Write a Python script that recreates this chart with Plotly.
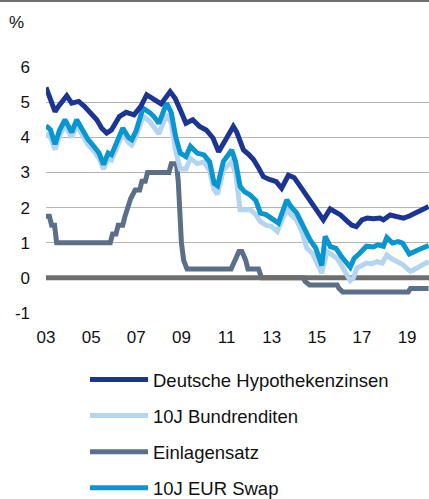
import plotly.graph_objects as go

# ---------------- data ----------------
tick_labels = ["03", "05", "07", "09", "11", "13", "15", "17", "19"]
y_ticks = [-1, 0, 1, 2, 3, 4, 5, 6]

hypo_t = [2003.0, 2003.18, 2003.4, 2003.55, 2003.92, 2004.14, 2004.45, 2004.7, 2004.95,
          2005.25, 2005.47, 2005.69, 2005.9, 2006.25, 2006.55, 2006.9, 2007.2, 2007.46,
          2007.8, 2008.1, 2008.5, 2008.72, 2008.95, 2009.2, 2009.5, 2009.8, 2010.1,
          2010.4, 2010.65, 2010.95, 2011.3, 2011.45, 2011.75, 2012.0, 2012.2, 2012.4,
          2012.63, 2012.9, 2013.2, 2013.44, 2013.74, 2014.0, 2014.26, 2014.5, 2014.78,
          2015.05, 2015.29, 2015.59, 2015.85, 2016.05, 2016.33, 2016.55, 2016.75, 2017.0,
          2017.23, 2017.5, 2017.8, 2017.95, 2018.25, 2018.55, 2018.84, 2019.1, 2019.3,
          2019.55, 2019.8, 2019.95]
hypo_v = [5.42, 5.07, 4.73, 4.88, 5.18, 4.97, 5.02, 4.88, 4.69,
          4.50, 4.26, 4.12, 4.21, 4.59, 4.71, 4.64, 4.88, 5.21,
          5.07, 4.95, 5.30, 5.11, 4.78, 4.40, 4.50, 4.31, 4.21,
          3.98, 3.59, 3.95, 4.31, 4.15, 3.64, 3.50, 3.36, 3.15,
          2.88, 2.80, 2.74, 2.55, 2.92, 2.85, 2.60, 2.42, 2.13,
          1.90, 1.65, 1.96, 1.85, 1.79, 1.62, 1.50, 1.46, 1.65,
          1.70, 1.68, 1.70, 1.65, 1.79, 1.74, 1.70, 1.76, 1.84,
          1.90, 1.98, 2.03]

bund_t = [2003.0, 2003.2, 2003.4, 2003.6, 2003.84, 2004.14, 2004.36, 2004.6, 2004.85,
          2005.1, 2005.35, 2005.55, 2005.75, 2005.9, 2006.2, 2006.4, 2006.65, 2006.8,
          2007.0, 2007.3, 2007.6, 2007.78, 2008.0, 2008.35, 2008.55, 2008.75, 2008.95,
          2009.2, 2009.4, 2009.7, 2010.0, 2010.25, 2010.45, 2010.6, 2010.86, 2011.2,
          2011.4, 2011.6, 2011.8, 2012.04, 2012.3, 2012.5, 2012.75, 2013.0, 2013.25,
          2013.67, 2013.85, 2014.1, 2014.35, 2014.55, 2014.8, 2015.05, 2015.22, 2015.45,
          2015.65, 2015.9, 2016.1, 2016.48, 2016.62, 2016.78, 2017.0, 2017.2, 2017.45,
          2017.65, 2017.9, 2018.1, 2018.3, 2018.55, 2018.8, 2019.15, 2019.5, 2019.95]
bund_v = [4.10, 4.00, 3.65, 4.05, 4.35, 4.00, 4.35, 4.10, 3.80,
          3.62, 3.40, 3.10, 3.40, 3.35, 3.85, 4.10, 3.85, 3.78,
          4.05, 4.60, 4.45, 4.30, 4.10, 4.65, 4.40, 3.60, 3.10,
          3.10, 3.40, 3.25, 3.30, 3.05, 2.50, 2.38, 3.07, 3.30,
          3.00, 1.94, 1.94, 1.94, 1.80, 1.60, 1.50, 1.46, 1.32,
          1.95, 1.80, 1.65, 1.30, 0.85, 0.70, 0.40, 0.13, 0.75,
          0.65, 0.55, 0.35, -0.08, 0.00, 0.28, 0.35, 0.42, 0.40,
          0.46, 0.42, 0.65, 0.55, 0.46, 0.38, 0.18, 0.30, 0.46]

einlage_t = [2003.0, 2003.15, 2003.25, 2003.38, 2003.47, 2005.85, 2005.95, 2006.1, 2006.2,
             2006.4, 2006.5, 2006.6, 2006.75, 2006.95, 2007.15, 2007.25, 2007.4, 2007.5,
             2008.45, 2008.55, 2008.78, 2008.86, 2008.92, 2009.0, 2009.1, 2009.25, 2011.2,
             2011.35, 2011.55, 2011.68, 2011.85, 2011.95, 2012.42, 2012.55, 2014.4, 2014.48,
             2014.68, 2015.9, 2015.98, 2016.15, 2019.05, 2019.15, 2019.95]
einlage_v = [1.75, 1.75, 1.50, 1.50, 1.00, 1.00, 1.25, 1.25, 1.50,
             1.50, 1.75, 2.00, 2.25, 2.50, 2.50, 2.75, 2.75, 3.00,
             3.00, 3.25, 3.25, 2.75, 2.00, 1.00, 0.50, 0.25, 0.25,
             0.50, 0.75, 0.75, 0.50, 0.25, 0.25, 0.00, 0.00, -0.10,
             -0.20, -0.20, -0.30, -0.40, -0.40, -0.30, -0.30]

swap_t = [2003.0, 2003.2, 2003.4, 2003.6, 2003.84, 2004.14, 2004.36, 2004.6, 2004.85,
          2005.1, 2005.35, 2005.55, 2005.75, 2005.9, 2006.2, 2006.4, 2006.65, 2006.8,
          2007.0, 2007.3, 2007.6, 2007.78, 2008.0, 2008.35, 2008.55, 2008.75, 2008.95,
          2009.2, 2009.4, 2009.7, 2010.0, 2010.25, 2010.45, 2010.6, 2010.86, 2011.23,
          2011.4, 2011.6, 2011.8, 2012.04, 2012.3, 2012.5, 2012.75, 2013.0, 2013.3,
          2013.67, 2013.85, 2014.11, 2014.4, 2014.7, 2014.95, 2015.22, 2015.37, 2015.6,
          2015.85, 2016.1, 2016.48, 2016.65, 2016.9, 2017.2, 2017.5, 2017.7, 2017.95,
          2018.1, 2018.35, 2018.6, 2018.8, 2019.1, 2019.5, 2019.95]
swap_v = [4.33, 4.21, 3.80, 4.20, 4.50, 4.14, 4.50, 4.25, 3.95,
          3.76, 3.55, 3.22, 3.55, 3.50, 4.00, 4.26, 4.00, 3.93,
          4.20, 4.83, 4.70, 4.59, 4.40, 4.97, 4.70, 4.00, 3.55,
          3.45, 3.74, 3.55, 3.50, 3.30, 2.69, 2.62, 3.31, 3.64,
          3.30, 2.60, 2.45, 2.36, 2.20, 1.84, 1.80, 1.70, 1.56,
          2.22, 2.03, 1.84, 1.45, 1.08, 0.85, 0.35, 1.18, 0.89,
          0.84, 0.60, 0.30, 0.55, 0.70, 0.90, 0.88, 0.94, 0.90,
          1.15, 0.99, 1.03, 0.99, 0.68, 0.80, 0.92]

x_range = [2003.0, 2019.97]
y_range = [-1, 6]

# ---------------- styling ----------------
FONT = "Liberation Sans, Arial, sans-serif"
C_HYPO = "#1C3592"
C_BUND = "#B4D4F0"
C_EINL = "#5B7088"
C_SWAP = "#0796CF"
C_ZERO = "#6E6E6E"
LW = 5

fig = go.Figure()

fig.add_trace(go.Scatter(x=einlage_t, y=einlage_v, mode="lines", name="Einlagensatz",
                         line=dict(color=C_EINL, width=LW), legendrank=3,
                         legendgroup="c"))
fig.add_trace(go.Scatter(x=x_range, y=[0, 0], mode="lines", showlegend=False,
                         line=dict(color=C_ZERO, width=LW), hoverinfo="skip"))
fig.add_trace(go.Scatter(x=bund_t, y=bund_v, mode="lines", name="10J Bundrenditen",
                         line=dict(color=C_BUND, width=LW), legendrank=2,
                         legendgroup="b"))
fig.add_trace(go.Scatter(x=swap_t, y=swap_v, mode="lines", name="10J EUR Swap",
                         line=dict(color=C_SWAP, width=LW), legendrank=4,
                         legendgroup="d"))
fig.add_trace(go.Scatter(x=hypo_t, y=hypo_v, mode="lines", name="Deutsche Hypothekenzinsen",
                         line=dict(color=C_HYPO, width=LW), legendrank=1,
                         legendgroup="a"))

W, H = 429, 499
ML, MR, MT, MB = 46, 0, 67, 186
PW, PH = W - ML - MR, H - MT - MB


def px_to_paper_x(px):
    return (px - ML) / PW


def px_to_paper_y(py):
    return (H - MB - py) / PH


fig.update_layout(
    width=W, height=H,
    margin=dict(l=ML, r=MR, t=MT, b=MB, pad=0, autoexpand=False),
    paper_bgcolor="white", plot_bgcolor="white",
    font=dict(family=FONT, size=17, color="#111111"),
    showlegend=True,
    legend=dict(
        orientation="v",
        x=px_to_paper_x(85), xanchor="left",
        y=px_to_paper_y(361), yanchor="top",
        font=dict(family=FONT, size=18.5, color="#111111"),
        traceorder="grouped",
        tracegroupgap=9,
        itemwidth=58,
        bgcolor="rgba(0,0,0,0)",
        borderwidth=0,
    ),
    xaxis=dict(
        range=x_range,
        tickmode="array",
        tickvals=[2000 + int(t) for t in tick_labels],
        ticktext=tick_labels,
        showgrid=False, zeroline=False, showline=False,
        ticks="", ticklabelstandoff=12,
        tickfont=dict(size=17),
        automargin=False,
        fixedrange=True,
    ),
    yaxis=dict(
        range=y_range,
        tickmode="array",
        tickvals=y_ticks,
        ticktext=[str(v) for v in y_ticks],
        showgrid=True, gridcolor="#B5B5B5", gridwidth=1,
        zeroline=False, showline=False,
        ticks="", ticklabelstandoff=15,
        tickfont=dict(size=17),
        automargin=False,
        fixedrange=True,
    ),
    shapes=[
        dict(type="line", xref="paper", yref="paper",
             x0=px_to_paper_x(0), x1=px_to_paper_x(W),
             y0=px_to_paper_y(1), y1=px_to_paper_y(1),
             line=dict(color="#707070", width=2)),
    ],
    annotations=[
        dict(text="%", xref="paper", yref="paper",
             x=px_to_paper_x(16), y=px_to_paper_y(22),
             xanchor="center", yanchor="middle", showarrow=False,
             font=dict(family=FONT, size=17, color="#111111")),
    ],
)

fig.write_html(
    "out.html",
    config={"displayModeBar": False},
    post_script="document.body.style.margin='0px';document.body.style.overflow='hidden';",
)
